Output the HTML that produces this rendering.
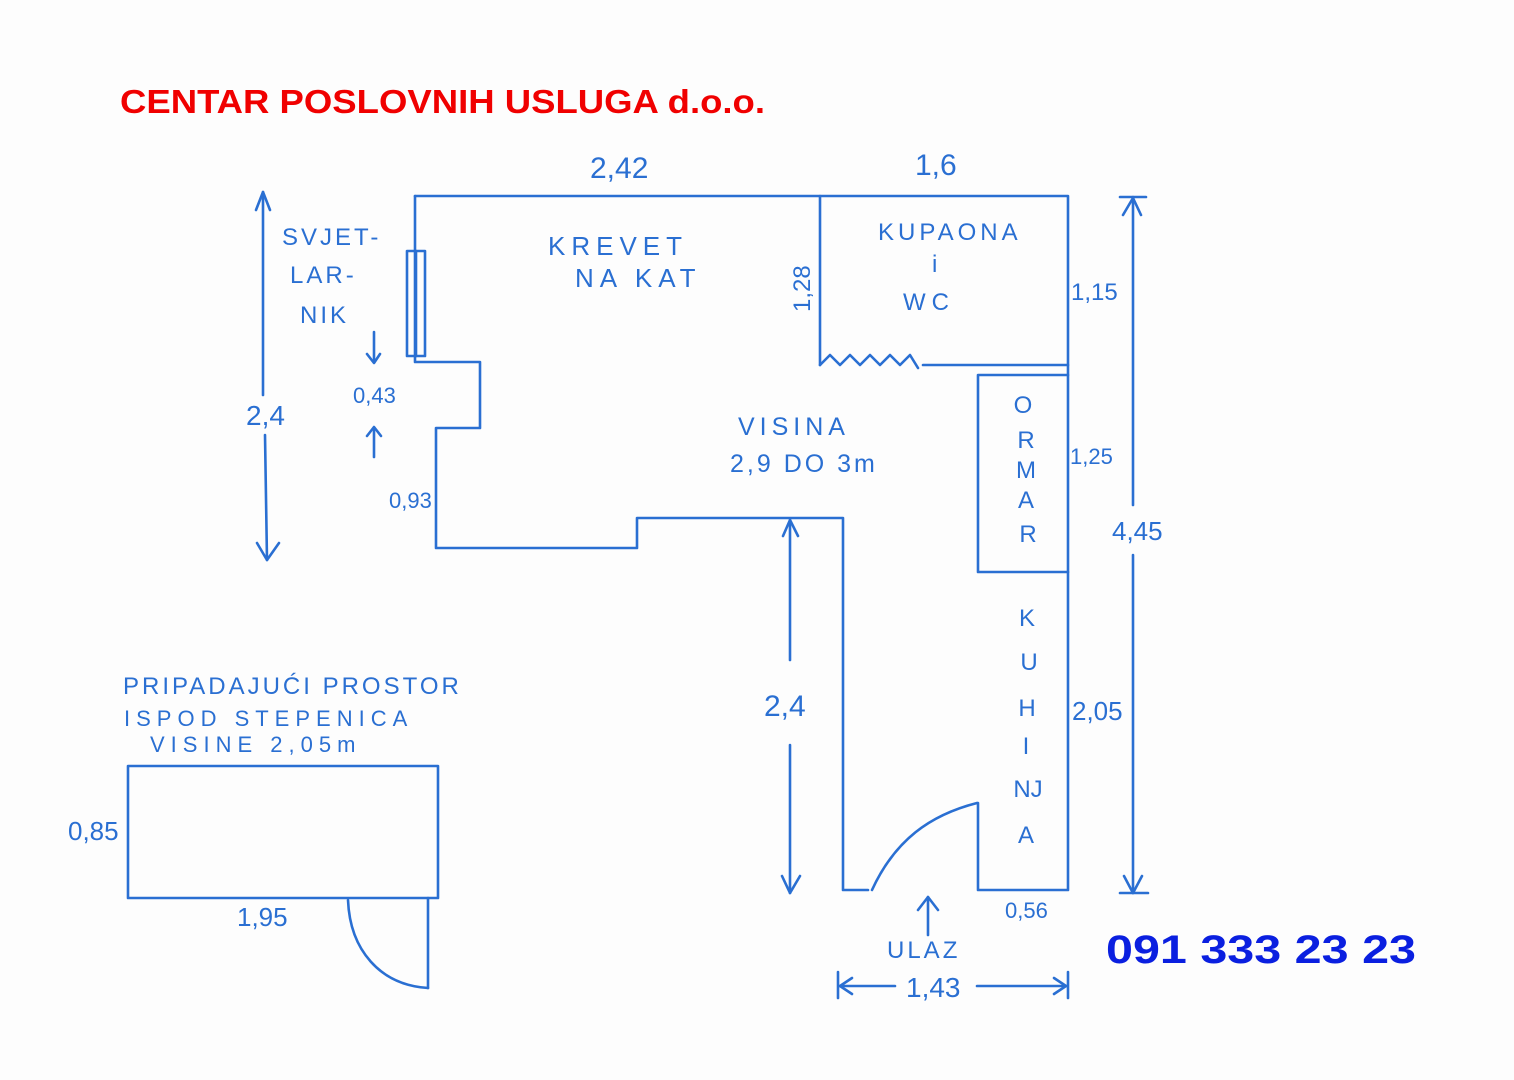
<!DOCTYPE html>
<html><head><meta charset="utf-8"><style>
html,body{margin:0;padding:0;background:#fdfdfd;}
svg{display:block}
.t{font-family:"Liberation Sans",sans-serif;fill:#2a6fd2;}
</style></head><body>
<svg width="1514" height="1080" viewBox="0 0 1514 1080" xmlns="http://www.w3.org/2000/svg">
<rect width="1514" height="1080" fill="#fdfdfd"/>
<text x="120" y="113" font-family="Liberation Sans,sans-serif" font-weight="bold" font-size="33" fill="#f00000" textLength="645" lengthAdjust="spacingAndGlyphs">CENTAR POSLOVNIH USLUGA d.o.o.</text>
<text x="1106" y="963" font-family="Liberation Sans,sans-serif" font-weight="bold" font-size="40" fill="#0a1fe0" textLength="310" lengthAdjust="spacingAndGlyphs">091 333 23 23</text>
<g fill="none" stroke="#2a6fd2" stroke-width="2.6" stroke-linecap="round" stroke-linejoin="round">
<!-- main outline -->
<path d="M415 196 H1068 V890 H978 V803"/>
<path d="M415 196 V362 H480 V428 H436 V548 H637 V518 H843 V890 H868"/>
<rect x="407" y="251" width="18" height="105"/>
<line x1="416" y1="251" x2="416" y2="356"/>
<path d="M872 890 C895 840 930 815 977 803"/>
<!-- bathroom -->
<path d="M820 196 V365"/>
<path d="M820 365 L830 355 L840 365 L850 355 L860 365 L870 355 L880 365 L890 355 L900 365 L910 355 L918 368"/>
<path d="M923 365 H1068"/>
<!-- ormar -->
<path d="M1068 375 H978 V572 H1068"/>
<!-- left dim -->
<line x1="263" y1="192" x2="263" y2="395"/><path d="M256 210 L263 192 L270 210"/>
<line x1="265" y1="435" x2="267" y2="560"/><path d="M257 543 L267 560 L279 543"/>
<!-- right dim -->
<line x1="1133" y1="197" x2="1133" y2="505"/><line x1="1133" y1="555" x2="1133" y2="893"/>
<line x1="1120" y1="197" x2="1146" y2="197"/><path d="M1123 215 L1133 198 L1141 215"/>
<line x1="1120" y1="893" x2="1148" y2="893"/><path d="M1124 876 L1133 893 L1142 876"/>
<!-- middle 2,4 dim -->
<line x1="790" y1="520" x2="790" y2="660"/><path d="M783 536 L790 520 L798 536"/>
<line x1="790" y1="745" x2="790" y2="893"/><path d="M782 876 L790 893 L800 876"/>
<!-- small arrows -->
<line x1="374" y1="332" x2="374" y2="362"/><path d="M367 354 L374 363 L380 354"/>
<line x1="374" y1="428" x2="374" y2="457"/><path d="M367 436 L374 427 L381 436"/>
<!-- ulaz arrow -->
<line x1="928" y1="935" x2="928" y2="897"/><path d="M918 910 L928 897 L938 910"/>
<!-- bottom dim -->
<line x1="838" y1="972" x2="838" y2="998"/><line x1="1068" y1="972" x2="1068" y2="998"/>
<line x1="840" y1="986" x2="895" y2="986"/><path d="M852 978 L840 986 L852 994"/>
<line x1="977" y1="986" x2="1066" y2="986"/><path d="M1054 978 L1066 986 L1054 994"/>
<!-- small box -->
<rect x="128" y="766" width="310" height="132"/>
<line x1="428" y1="898" x2="428" y2="988"/>
<path d="M348 900 C350 950 380 985 428 988"/>
</g>
<g class="t">
<text x="590" y="178" font-size="30">2,42</text>
<text x="915" y="175" font-size="30">1,6</text>
<text x="282" y="245" font-size="24" letter-spacing="3">SVJET-</text>
<text x="290" y="283" font-size="24" letter-spacing="3">LAR-</text>
<text x="300" y="323" font-size="24" letter-spacing="3">NIK</text>
<text x="548" y="255" font-size="26" letter-spacing="6">KREVET</text>
<text x="575" y="287" font-size="26" letter-spacing="6">NA KAT</text>
<text x="878" y="240" font-size="24" letter-spacing="4">KUPAONA</text>
<text x="932" y="272" font-size="24">i</text>
<text x="903" y="310" font-size="24" letter-spacing="6">WC</text>
<text x="0" y="0" font-size="24" transform="translate(810 312) rotate(-90)">1,28</text>
<text x="1071" y="300" font-size="24">1,15</text>
<text x="246" y="425" font-size="28">2,4</text>
<text x="353" y="403" font-size="22">0,43</text>
<text x="389" y="508" font-size="22">0,93</text>
<text x="738" y="435" font-size="25" letter-spacing="5">VISINA</text>
<text x="730" y="472" font-size="25" letter-spacing="3">2,9 DO 3m</text>
<text x="1070" y="464" font-size="22">1,25</text>
<text x="1112" y="540" font-size="26">4,45</text>
<g font-size="24" text-anchor="middle">
<text x="1023" y="413">O</text><text x="1026" y="448">R</text><text x="1026" y="478">M</text><text x="1026" y="508">A</text><text x="1028" y="542">R</text>
<text x="1027" y="626">K</text><text x="1029" y="670">U</text><text x="1027" y="716">H</text><text x="1026" y="754">I</text><text x="1028" y="797">NJ</text><text x="1026" y="843">A</text>
</g>
<text x="764" y="716" font-size="30">2,4</text>
<text x="1072" y="720" font-size="26">2,05</text>
<text x="1005" y="918" font-size="22">0,56</text>
<text x="887" y="958" font-size="24" letter-spacing="3">ULAZ</text>
<text x="906" y="997" font-size="28">1,43</text>
<text x="123" y="694" font-size="24" letter-spacing="3">PRIPADAJUĆI PROSTOR</text>
<text x="124" y="726" font-size="22" letter-spacing="6">ISPOD  STEPENICA</text>
<text x="150" y="752" font-size="22" letter-spacing="6">VISINE 2,05m</text>
<text x="68" y="840" font-size="26">0,85</text>
<text x="237" y="926" font-size="26">1,95</text>
</g>
</svg>
</body></html>
